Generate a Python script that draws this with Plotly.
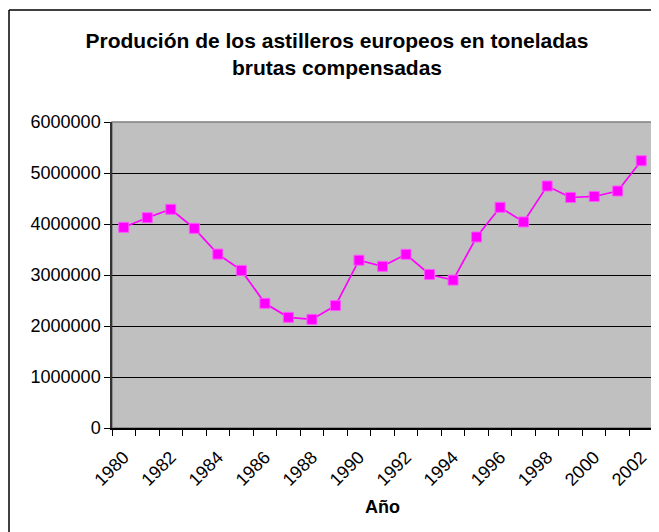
import plotly.graph_objects as go

# Producción anual (toneladas brutas compensadas)
anios = list(range(1980, 2003))
toneladas = [3935000, 4124000, 4288000, 3915000, 3410000, 3090000, 2445000,
             2170000, 2130000, 2400000, 3290000, 3170000, 3405000, 3010000,
             2900000, 3745000, 4327000, 4040000, 4745000, 4520000, 4540000,
             4647000, 5240000]
etiquetas_x = list(range(1980, 2003, 2))

fuente = "Liberation Sans, Arial, sans-serif"

# la página deja 8 px de margen en el body: se compensa aquí
W, H = 651, 524
L, T, PW, PH = 104, 114, 541, 306

fig = go.Figure(go.Scatter(
    x=anios, y=toneladas,
    mode="lines+markers",
    line=dict(color="#FF00FF", width=1.7),
    marker=dict(symbol="square", size=10, color="#FF00FF",
                line=dict(color="#FF55FF", width=1)),
    showlegend=False
))

fig.update_layout(
    width=W, height=H,
    margin=dict(l=L, r=W - L - PW, t=T, b=H - T - PH, autoexpand=False),
    paper_bgcolor="white",
    plot_bgcolor="#C0C0C0",
    font=dict(family=fuente, size=18, color="black"),
    title=dict(
        text="<b>Produción de los astilleros europeos en toneladas<br>brutas compensadas</b>",
        x=329 / W, xanchor="center", y=1 - 40 / H, yanchor="top",
        font=dict(size=21, family=fuente)
    ),
    xaxis=dict(
        range=[1979.5, 2002.5],
        tickvals=etiquetas_x,
        ticktext=[str(a) for a in etiquetas_x],
        tickangle=-45,
        ticks="", showgrid=False, zeroline=False,
        ticklabelstandoff=10,
        showline=True, linecolor="black", linewidth=1.5,
        minor=dict(tickvals=[a - 0.5 for a in anios] + [2002.5],
                   ticks="outside", ticklen=6, tickcolor="black",
                   tickwidth=1, showgrid=False),
        title=dict(text="<b>Año</b>", font=dict(size=18), standoff=12),
        automargin=False,
        fixedrange=True
    ),
    yaxis=dict(
        range=[0, 6000000],
        dtick=1000000,
        tickformat="d",
        ticks="outside", ticklen=6, tickcolor="black",
        showgrid=True, gridcolor="black", gridwidth=1,
        zeroline=False,
        showline=True, linecolor="#333333", linewidth=1.5,
        automargin=False,
        fixedrange=True
    ),
    shapes=[
        # borde gris del área de trazado
        dict(type="rect", xref="paper", yref="paper", x0=0, y0=0, x1=1, y1=1,
             line=dict(color="#808080", width=1.5), layer="below"),
        # marco exterior del gráfico (lados izquierdo y superior)
        dict(type="line", xref="paper", yref="paper",
             x0=(1 - L) / PW, x1=(1 - L) / PW,
             y0=(T + PH - H) / PH, y1=(T + PH - 2) / PH,
             line=dict(color="black", width=1.5)),
        dict(type="line", xref="paper", yref="paper",
             x0=(1 - L) / PW, x1=(W - L) / PW,
             y0=(T + PH - 2) / PH, y1=(T + PH - 2) / PH,
             line=dict(color="black", width=1.5))
    ]
)

fig.write_html("out.html")
